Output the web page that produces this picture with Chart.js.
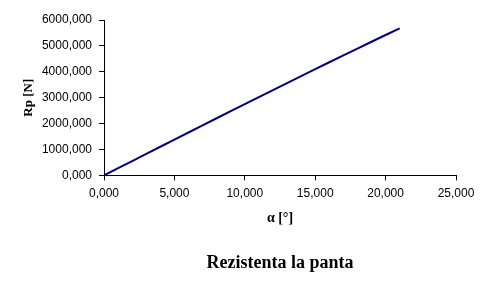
<!DOCTYPE html>
<html>
<head>
<meta charset="utf-8">
<script src="https://cdn.jsdelivr.net/npm/chart.js@4"></script>
<style>
  html, body { margin: 0; padding: 0; background: #fff; }
</style>
</head>
<body>
<canvas id="chart" width="492" height="300"></canvas>
<script>
// unghiul pantei [grade]
const alpha = [0, 1, 2, 3, 4, 5, 6, 7, 8, 9, 10, 11, 12, 13, 14, 15, 16, 17, 18, 19, 20, 21];
// rezistenta la panta [N]
const rp = [0, 277, 553, 830, 1106, 1381, 1657, 1932, 2206, 2479, 2752, 3024, 3295, 3565, 3834, 4102, 4369, 4634, 4898, 5160, 5421, 5680];

const xTicks = { min: 0, max: 25, step: 5 };
const yTicks = { min: 0, max: 6000, step: 1000 };

const fmt = v => Number(v).toFixed(3).replace('.', ',');

Chart.defaults.color = '#000';

new Chart(document.getElementById('chart'), {
    type: 'line',
    data: {
        datasets: [{
            label: 'Rp',
            data: alpha.map((a, i) => ({ x: a, y: rp[i] })),
            borderColor: '#000080',
            borderWidth: 2,
            pointRadius: 0,
            tension: 0,
            fill: false
        }]
    },
    options: {
        responsive: false,
        animation: false,
        layout: { padding: { top: 20, right: 36, left: 0, bottom: 0 } },
        plugins: {
            legend: { display: false },
            tooltip: { enabled: false },
            title: {
                display: true,
                position: 'bottom',
                fullSize: false,
                text: 'Rezistenta la panta',
                font: { family: 'Liberation Serif', size: 18, weight: 'bold' },
                padding: { top: 0, bottom: 26 }
            }
        },
        scales: {
            x: {
                type: 'linear',
                min: xTicks.min,
                max: xTicks.max,
                afterFit: s => { s.height = 77; },
                ticks: {
                    stepSize: xTicks.step,
                    callback: fmt,
                    font: { family: 'Liberation Sans', size: 12 },
                    padding: 6,
                    maxRotation: 0
                },
                grid: { drawOnChartArea: false, tickLength: 5, color: '#000' },
                border: { color: '#000', width: 1 },
                title: {
                    display: true,
                    text: 'α [°]',
                    font: { family: 'Liberation Serif', size: 14, weight: 'bold' },
                    padding: { top: 0, bottom: 26 }
                }
            },
            y: {
                min: yTicks.min,
                max: yTicks.max,
                afterFit: s => { s.width = 104; },
                ticks: {
                    stepSize: yTicks.step,
                    callback: fmt,
                    font: { family: 'Liberation Sans', size: 12 },
                    padding: 7
                },
                grid: { drawOnChartArea: false, tickLength: 5, color: '#000' },
                border: { color: '#000', width: 1 },
                title: {
                    display: true,
                    text: 'Rp [N]',
                    font: { family: 'Liberation Serif', size: 13, weight: 'bold' },
                    padding: { top: 21, bottom: 0 }
                }
            }
        }
    }
});
</script>
</body>
</html>
